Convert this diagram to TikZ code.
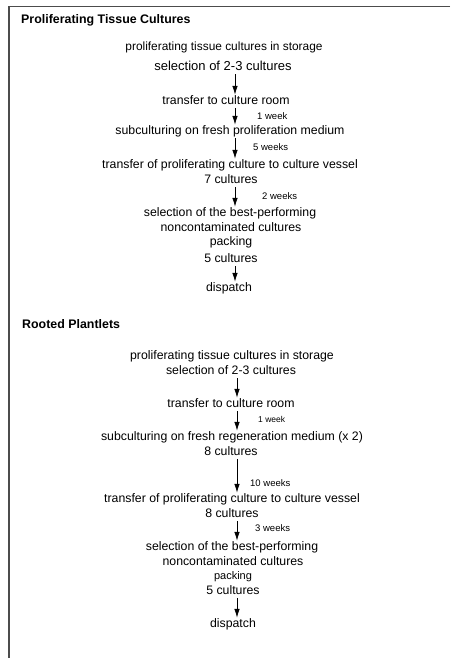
\documentclass[tikz,border=0pt]{standalone}
\usepackage{fontspec}
\setmainfont{Liberation Sans}
\usetikzlibrary{arrows.meta}
\begin{document}
\begin{tikzpicture}[x=1pt,y=-1pt,
  txt/.style={anchor=base, font=\fontsize{12.3}{15}\selectfont, text height=9pt, text depth=3pt, inner sep=0.5pt},
  lbl/.style={anchor=west, font=\fontsize{9.5}{11}\selectfont, inner sep=0pt},
  ttl/.style={anchor=base west, font=\bfseries\fontsize{12.4}{15}\selectfont, inner sep=0pt},
  arr/.style={-{Latex[length=9pt,width=5.5pt]}, line width=0.8pt},
  frame/.style={line width=1.3pt, draw=black!70}]
\useasboundingbox (0,0) rectangle (450,658);
% frame
\coordinate (tl) at (9,6.5);
\coordinate (tr) at (450,6.5);
\coordinate (bl) at (9,658);
\draw[frame] (tr) -- (tl) -- (bl);
% arrow axes
\coordinate (ax1) at (235,0);
\coordinate (ax2) at (237,0);
% Section 1
\node[ttl] (t1) at (21,23.5) {Proliferating Tissue Cultures};
\node[txt, font=\fontsize{11.9}{15}\selectfont] (n1) at (224,50.5) {proliferating tissue cultures in storage};
\node[txt, font=\fontsize{13}{15}\selectfont] (n2) at (223,70.5) {selection of 2-3 cultures};
\node[txt] (n3) at (226,104.5) {transfer to culture room};
\node[lbl] (l1) at (257,116) {1 week};
\node[txt] (n4) at (230,134.5) {subculturing on fresh proliferation medium};
\node[lbl] (l2) at (253,147) {5 weeks};
\node[txt] (n5) at (230,168.5) {transfer of proliferating culture to culture vessel};
\node[txt] (n6) at (231,183.5) {7 cultures};
\node[lbl] (l3) at (262,196) {2 weeks};
\node[txt] (n7) at (230,216.5) {selection of the best-performing};
\node[txt] (n8) at (231,231.5) {noncontaminated cultures};
\node[txt] (n9) at (231,245.5) {packing};
\node[txt] (n10) at (231,262.5) {5 cultures};
\node[txt] (n11) at (229,291.5) {dispatch};
\draw[arr] (n2.south -| ax1) -- (n3.north -| ax1);
\draw[arr] (n3.south -| ax1) -- (n4.north -| ax1);
\draw[arr] (n4.south -| ax1) -- (n5.north -| ax1);
\draw[arr] (n6.south -| ax1) -- (n7.north -| ax1);
\draw[arr] (n10.south -| ax1) -- (n11.north -| ax1);
% Section 2
\node[ttl] (t2) at (22,328.5) {Rooted Plantlets};
\node[txt] (m1) at (232,359.5) {proliferating tissue cultures in storage};
\node[txt] (m2) at (231,374.5) {selection of 2-3 cultures};
\node[txt] (m3) at (231,407.5) {transfer to culture room};
\node[lbl, font=\fontsize{8.5}{10}\selectfont] (k1) at (258,419) {1 week};
\node[txt] (m4) at (232,440.5) {subculturing on fresh regeneration medium (x 2)};
\node[txt] (m5) at (231,455.5) {8 cultures};
\node[lbl] (k2) at (250,483) {10 weeks};
\node[txt] (m6) at (232,502.5) {transfer of proliferating culture to culture vessel};
\node[txt] (m7) at (232,517.5) {8 cultures};
\node[lbl] (k3) at (255,528) {3 weeks};
\node[txt] (m8) at (232,550.5) {selection of the best-performing};
\node[txt] (m9) at (233,565.5) {noncontaminated cultures};
\node[txt, font=\fontsize{11}{13}\selectfont] (m10) at (233,579.5) {packing};
\node[txt] (m11) at (233,594.5) {5 cultures};
\node[txt] (m12) at (233,627.5) {dispatch};
\draw[arr] (m2.south -| ax2) -- (m3.north -| ax2);
\draw[arr] (m3.south -| ax2) -- (m4.north -| ax2);
\draw[arr] (m5.south -| ax2) -- (m6.north -| ax2);
\draw[arr] (m7.south -| ax2) -- (m8.north -| ax2);
\draw[arr] (m11.south -| ax2) -- (m12.north -| ax2);
\end{tikzpicture}
\end{document}
